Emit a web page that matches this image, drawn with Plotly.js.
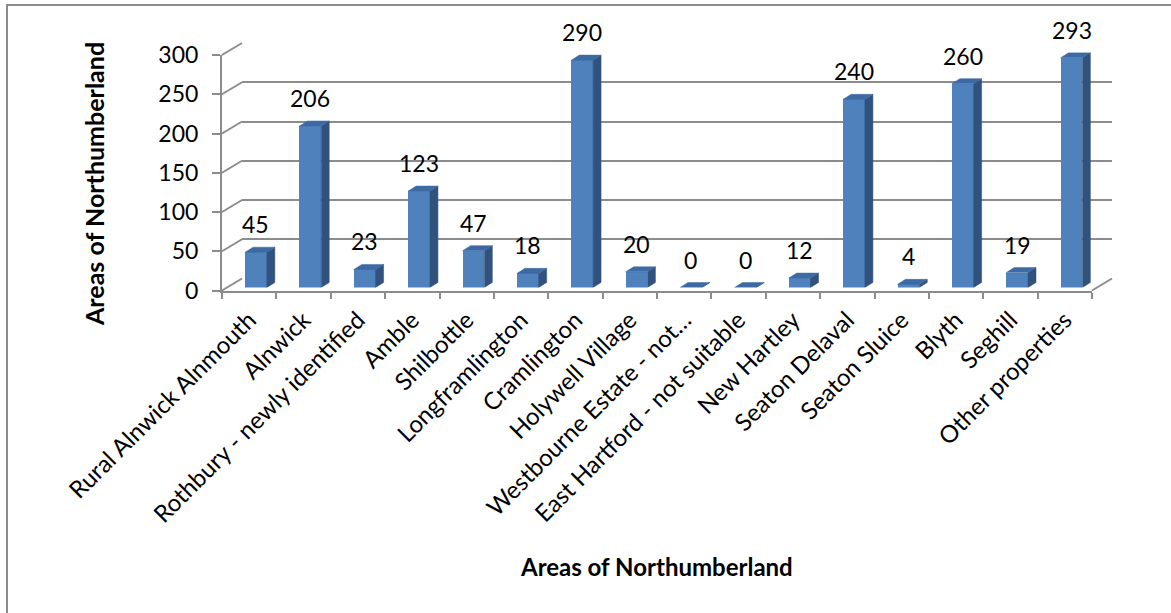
<!DOCTYPE html>
<html>
<head>
<meta charset="utf-8">
<script src="https://cdn.plot.ly/plotly-3.0.1.min.js"></script>
<style>html,body{margin:0;padding:0;background:#fff;}#chart{width:1171px;height:613px;}</style>
</head>
<body>
<div id="chart"></div>
<script>
const categories = ["Rural Alnwick Alnmouth", "Alnwick", "Rothbury - newly identified", "Amble", "Shilbottle", "Longframlington", "Cramlington", "Holywell Village", "Westbourne Estate - not…", "East Hartford - not suitable", "New Hartley", "Seaton Delaval", "Seaton Sluice", "Blyth", "Seghill", "Other properties"];
const values = [45, 206, 23, 123, 47, 18, 290, 20, 0, 0, 12, 240, 4, 260, 19, 293];
const yTicks = [0, 50, 100, 150, 200, 250, 300];
const axisTitle = "Areas of Northumberland";

const W = 1171, H = 613;
const px = x => x / W;
const py = y => 1 - y / H;
const FONT = "Lato, 'Open Sans', sans-serif";
const GRAY = "#8c8c8c";

// 3D depth parameters (in bar-axis units)
const halfW = 0.2;
const depthX = 0.147;
const depthY = 6.4;

const idx = categories.map((c, i) => i);

// side and top faces of the bars
const sideX = [], sideY = [], topX = [], topY = [];
idx.forEach(i => {
  const v = values[i];
  sideX.push(i + halfW, i + halfW, i + halfW + depthX, i + halfW + depthX, i + halfW, null);
  sideY.push(0, v, v + depthY, depthY, 0, null);
  topX.push(i - halfW, i + halfW, i + halfW + depthX, i - halfW + depthX, i - halfW, null);
  topY.push(v, v, v + depthY, v + depthY, v, null);
});

const traces = [
  {type: "scatter", x: categories, y: values, xaxis: "x", yaxis: "y", mode: "none", hoverinfo: "skip", showlegend: false},
  {type: "scatter", x: [0], y: [0], xaxis: "x2", yaxis: "y2", mode: "none", hoverinfo: "skip", showlegend: false},
  {type: "bar", x: idx, y: values, xaxis: "x3", yaxis: "y3", width: 2 * halfW,
   marker: {color: "#4f81bd", line: {width: 0}}, showlegend: false},
  {type: "scatter", x: sideX, y: sideY, xaxis: "x3", yaxis: "y3", mode: "lines", fill: "toself",
   fillcolor: "#31527c", line: {width: 0.5, color: "#31527c"}, hoverinfo: "skip", showlegend: false},
  {type: "scatter", x: topX, y: topY, xaxis: "x3", yaxis: "y3", mode: "lines", fill: "toself",
   fillcolor: "#3d6aa2", line: {width: 0.5, color: "#3d6aa2"}, hoverinfo: "skip", showlegend: false}
];

const frontY = v => 290.5 - v * (235.5 / 300);
const backY = v => 278.5 - v * (235.5 / 300);

const shapes = [];
yTicks.forEach(v => {
  shapes.push({type: "line", xref: "paper", yref: "paper", x0: px(222), y0: py(frontY(v)), x1: px(242), y1: py(backY(v)),
    line: {color: GRAY, width: 2}});
});
shapes.push({type: "line", xref: "paper", yref: "paper", x0: px(1092), y0: py(frontY(0)), x1: px(1112), y1: py(backY(0)),
  line: {color: GRAY, width: 2}});
shapes.push({type: "rect", xref: "paper", yref: "paper", x0: px(7), y0: py(5), x1: 1.2, y1: -0.2,
  line: {color: GRAY, width: 2}, fillcolor: "rgba(0,0,0,0)"});

const annotations = idx.map(i => ({
  xref: "x3", yref: "y3", x: i, y: values[i], text: String(values[i]), showarrow: false,
  yanchor: "middle", xanchor: "center", yshift: 28, font: {family: FONT, size: 23, color: "#000"}
}));
annotations.push({xref: "paper", yref: "paper", x: px(656), y: py(566), text: "<b>" + axisTitle + "</b>", showarrow: false,
  xanchor: "center", yanchor: "middle", font: {family: FONT, size: 24, color: "#000"}});
annotations.push({xref: "paper", yref: "paper", x: px(94), y: py(184), text: "<b>" + axisTitle + "</b>", showarrow: false,
  textangle: -90, xanchor: "center", yanchor: "middle", font: {family: FONT, size: 25, color: "#000"}});

const layout = {
  width: W, height: H,
  margin: {l: 0, r: 0, t: 0, b: 0, pad: 0},
  paper_bgcolor: "#fff", plot_bgcolor: "rgba(0,0,0,0)",
  showlegend: false,
  xaxis: {domain: [px(222), px(1092)], anchor: "y", type: "category", range: [-0.5, 15.5],
    showline: true, linecolor: GRAY, linewidth: 2, ticks: "outside", tickson: "boundaries", ticklen: 6,
    tickcolor: GRAY, tickwidth: 2, tickangle: -45, showgrid: false, zeroline: false, ticklabelstandoff: 4,
    tickfont: {family: FONT, size: 24, color: "#000"}, fixedrange: true},
  yaxis: {domain: [py(290.5), py(55)], anchor: "x", range: [0, 300], tickvals: yTicks,
    showline: true, linecolor: GRAY, linewidth: 2, ticks: "outside", ticklen: 8, tickcolor: GRAY, tickwidth: 2,
    showgrid: false, zeroline: false, ticklabelstandoff: 9,
    tickfont: {family: FONT, size: 23, color: "#000"}, fixedrange: true},
  xaxis2: {domain: [px(242), px(1112)], anchor: "y2", range: [-0.5, 15.5], showgrid: false, zeroline: false,
    showticklabels: false, showline: false, ticks: "", fixedrange: true},
  yaxis2: {domain: [py(278.5), py(43)], anchor: "x2", range: [0, 300], tickvals: yTicks, showgrid: true,
    gridcolor: GRAY, gridwidth: 2, zeroline: false, showticklabels: false, showline: false, ticks: "", fixedrange: true},
  xaxis3: {domain: [px(228.8), px(1098.7)], anchor: "y3", range: [-0.5, 15.5], visible: false, fixedrange: true},
  yaxis3: {domain: [py(287.5), py(52.3)], anchor: "x3", range: [0, 300], visible: false, fixedrange: true},
  shapes: shapes,
  annotations: annotations,
  bargap: 0
};

Plotly.newPlot("chart", traces, layout, {displayModeBar: false, staticPlot: true});
</script>
</body>
</html>
